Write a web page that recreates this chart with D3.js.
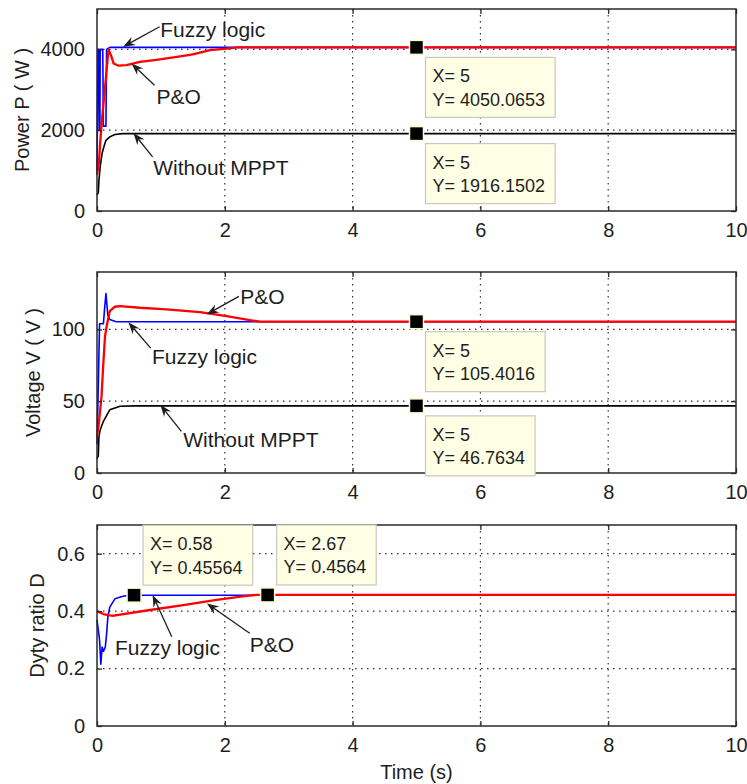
<!DOCTYPE html>
<html>
<head>
<meta charset="utf-8">
<script src="https://cdn.jsdelivr.net/npm/d3@7/dist/d3.min.js"></script>
<style>
  body { margin: 0; background: #fff; }
  svg text { font-family: "Liberation Sans", Arial, sans-serif; fill: #1e1e1e; }
</style>
</head>
<body>
<svg id="chart" width="747" height="784"></svg>
<script>
// shared time axis
var xTicks = [0, 2, 4, 6, 8, 10];

// Power P (W)
var powerTicks = [0, 2000, 4000];
var powerWithoutT = [0, 0.02, 0.03, 0.05, 0.08, 0.11, 0.14, 0.2, 0.28, 0.4, 10];
var powerWithoutV = [400, 450, 750, 1100, 1430, 1600, 1750, 1835, 1893, 1916.15, 1916.15];
var powerFuzzyT = [0, 0.015, 0.03, 0.035, 0.045, 0.05, 0.09, 0.1, 0.14, 0.15, 0.2, 10];
var powerFuzzyV = [900, 4000, 4000, 2000, 2000, 4000, 4000, 2100, 2100, 4000, 4050, 4050];
var powerPOT = [0, 0.03, 0.05, 0.08, 0.11, 0.14, 0.18, 0.22, 0.26, 0.33, 0.46, 0.67, 0.93, 1.25, 1.5, 1.77, 2.03, 2.2, 10];
var powerPOV = [900, 1200, 1700, 2300, 2800, 3300, 4000, 3850, 3650, 3600, 3610, 3690, 3740, 3815, 3875, 3980, 4020, 4050, 4050];
var powerTipX = [5, 5];
var powerTipY = [4050.0653, 1916.1502];
var powerNotes = ["Fuzzy logic", "P&O", "Without MPPT"];
var powerNoteAt = [[0.99, 4310], [0.93, 2660], [0.88, 885]];
var powerArrowFrom = [[0.98, 4560], [0.9, 3115], [0.87, 1340]];
var powerArrowTo = [[0.41, 4065], [0.54, 3650], [0.57, 1930]];

// Voltage V (V)
var voltTicks = [0, 50, 100];
var voltWithoutT = [0, 0.02, 0.03, 0.05, 0.1, 0.2, 0.36, 0.6, 10];
var voltWithoutV = [10, 12, 25, 30, 36, 44, 46.5, 46.76, 46.76];
var voltFuzzyT = [0, 0.02, 0.04, 0.1, 0.12, 0.14, 0.17, 0.2, 0.3, 10];
var voltFuzzyV = [20, 60, 104, 104, 115, 125, 110, 107, 105.4, 105.4];
var voltPOT = [0, 0.03, 0.07, 0.1, 0.125, 0.15, 0.2, 0.28, 0.36, 0.67, 1.09, 1.61, 2.03, 2.39, 2.55, 10];
var voltPOV = [25, 35, 53, 77, 95, 102, 112.8, 115.8, 116.3, 115.1, 114, 112, 109.3, 106.5, 105.4, 105.4];
var voltTipX = [5, 5];
var voltTipY = [105.4016, 46.7634];
var voltNotes = ["P&O", "Fuzzy logic", "Without MPPT"];
var voltNoteAt = [[2.24, 117.4], [0.86, 75.6], [1.35, 18.1]];
var voltArrowFrom = [[2.22, 123], [0.84, 87], [1.32, 29]];
var voltArrowTo = [[1.72, 110.5], [0.49, 105], [0.99, 47.5]];

// Duty ratio D
var dutyTicks = [0, 0.2, 0.4, 0.6];
var dutyFuzzyT = [0, 0.04, 0.06, 0.08, 0.1, 0.13, 0.15, 0.17, 0.2, 0.28, 0.39, 0.5, 10];
var dutyFuzzyV = [0.37, 0.3, 0.215, 0.275, 0.26, 0.275, 0.32, 0.38, 0.414, 0.443, 0.451, 0.4556, 0.4556];
var dutyPOT = [0, 0.1, 0.2, 0.26, 0.83, 1.35, 1.87, 2.34, 2.5, 10];
var dutyPOV = [0.4, 0.39, 0.385, 0.384, 0.404, 0.421, 0.439, 0.453, 0.4564, 0.4564];
var dutyTipX = [0.58, 2.67];
var dutyTipY = [0.45564, 0.4564];
var dutyNotes = ["Fuzzy logic", "P&O"];
var dutyNoteAt = [[0.28, 0.247], [2.39, 0.259]];
var dutyArrowFrom = [[1.17, 0.311], [2.39, 0.323]];
var dutyArrowTo = [[0.87, 0.456], [1.72, 0.427]];

var svg = d3.select("#chart");
var left = 97, right = 736;

var x = d3.scaleLinear().domain([0, 10]).range([left, right]);

function pts(t, v) { return t.map(function(d, i) { return [d, v[i]]; }); }
function plain(d) { return String(d); }

var panels = [
  { top: 9, bottom: 211, domain: [0, 5000], ticks: powerTicks, label: "Power P ( W )", labelX: 22,
    series: [[powerWithoutT, powerWithoutV, "#000"], [powerFuzzyT, powerFuzzyV, "#0000ff"], [powerPOT, powerPOV, "#ff0000"]],
    tipX: powerTipX, tipY: powerTipY, tipSide: "below",
    notes: powerNotes, noteAt: powerNoteAt, from: powerArrowFrom, to: powerArrowTo },
  { top: 272, bottom: 473, domain: [0, 140], ticks: voltTicks, label: "Voltage V ( V )", labelX: 33,
    series: [[voltWithoutT, voltWithoutV, "#000"], [voltFuzzyT, voltFuzzyV, "#0000ff"], [voltPOT, voltPOV, "#ff0000"]],
    tipX: voltTipX, tipY: voltTipY, tipSide: "below",
    notes: voltNotes, noteAt: voltNoteAt, from: voltArrowFrom, to: voltArrowTo },
  { top: 525, bottom: 726, domain: [0, 0.7], ticks: dutyTicks, label: "Dyty ratio D", labelX: 37,
    series: [[dutyFuzzyT, dutyFuzzyV, "#0000ff"], [dutyPOT, dutyPOV, "#ff0000"]],
    tipX: dutyTipX, tipY: dutyTipY, tipSide: "above",
    notes: dutyNotes, noteAt: dutyNoteAt, from: dutyArrowFrom, to: dutyArrowTo }
];

panels.forEach(function(p) {
  var y = d3.scaleLinear().domain(p.domain).range([p.bottom, p.top]);
  var g = svg.append("g");

  // dotted grid
  xTicks.slice(1, -1).forEach(function(t) {
    g.append("line").attr("x1", x(t)).attr("x2", x(t)).attr("y1", p.top).attr("y2", p.bottom)
      .attr("stroke", "#333").attr("stroke-width", 1.2).attr("stroke-dasharray", "1.5,4.5");
  });
  p.ticks.slice(1).forEach(function(v) {
    g.append("line").attr("x1", left).attr("x2", right).attr("y1", y(v)).attr("y2", y(v))
      .attr("stroke", "#333").attr("stroke-width", 1.2).attr("stroke-dasharray", "1.5,4.5");
  });

  // curves (red drawn last and a bit wider so it hides the blue where they coincide)
  var line = d3.line().x(function(d) { return x(d[0]); }).y(function(d) { return y(d[1]); });
  p.series.forEach(function(s) {
    g.append("path").datum(pts(s[0], s[1])).attr("d", line)
      .attr("fill", "none").attr("stroke", s[2]).attr("stroke-width", s[2] === "#ff0000" ? 2.3 : 1.6)
      .attr("stroke-linejoin", "round");
  });

  // box and inward ticks
  g.append("rect").attr("x", left).attr("y", p.top).attr("width", right - left).attr("height", p.bottom - p.top)
    .attr("fill", "none").attr("stroke", "#2a2a2a").attr("stroke-width", 1.5);
  g.append("g").attr("transform", "translate(0," + p.bottom + ")")
    .call(d3.axisBottom(x).tickValues(xTicks).tickSize(-5).tickPadding(12).tickFormat(plain));
  g.append("g").attr("transform", "translate(0," + p.top + ")")
    .call(d3.axisTop(x).tickValues(xTicks).tickSize(-5).tickFormat(""));
  g.append("g").attr("transform", "translate(" + left + ",0)")
    .call(d3.axisLeft(y).tickValues(p.ticks).tickSize(-5).tickPadding(12).tickFormat(plain));
  g.append("g").attr("transform", "translate(" + right + ",0)")
    .call(d3.axisRight(y).tickValues(p.ticks).tickSize(-5).tickFormat(""));
  g.selectAll(".domain").remove();
  g.selectAll(".tick line").attr("stroke", "#2a2a2a").attr("stroke-width", 1.3);
  g.selectAll(".tick text").attr("font-size", 20).attr("font-family", "Liberation Sans, Arial, sans-serif").attr("fill", "#1e1e1e");

  // y label
  g.append("text").attr("transform", "translate(" + p.labelX + "," + ((p.top + p.bottom) / 2) + ") rotate(-90)")
    .attr("text-anchor", "middle").attr("dy", "0.35em").attr("font-size", 20).text(p.label);

  // annotations with arrows
  p.notes.forEach(function(txt, i) {
    g.append("text").attr("x", x(p.noteAt[i][0])).attr("y", y(p.noteAt[i][1]))
      .attr("font-size", 21).text(txt);
    var fx = x(p.from[i][0]), fy = y(p.from[i][1]);
    var tx = x(p.to[i][0]), ty = y(p.to[i][1]);
    var dx = tx - fx, dy = ty - fy, len = Math.sqrt(dx * dx + dy * dy);
    var ux = dx / len, uy = dy / len, nx = -uy, ny = ux;
    var L = 12, W = 4.5, notch = 8;
    g.append("line").attr("x1", fx).attr("y1", fy).attr("x2", tx - ux * notch).attr("y2", ty - uy * notch)
      .attr("stroke", "#1e1e1e").attr("stroke-width", 1.3);
    var head = [[tx, ty], [tx - ux * L + nx * W, ty - uy * L + ny * W], [tx - ux * notch, ty - uy * notch],
                [tx - ux * L - nx * W, ty - uy * L - ny * W]];
    g.append("path").attr("d", "M" + head.join("L") + "Z").attr("fill", "#1e1e1e");
  });

  // data tips
  p.tipX.forEach(function(tx, i) {
    var mx = x(tx), my = y(p.tipY[i]);
    var tip = g.append("g");
    var lines = ["X= " + tx, "Y= " + p.tipY[i]];
    var bw = 0, bh = 60;
    var by = p.tipSide === "below" ? my + 10 : my - 10 - bh;
    var bx = mx + 9;
    var rect = tip.append("rect").attr("x", bx).attr("y", by).attr("height", bh)
      .attr("fill", "#ffffe6").attr("stroke", "#c8c8bc").attr("stroke-width", 1.2);
    lines.forEach(function(s, k) {
      var t = tip.append("text").attr("x", bx + 7).attr("y", by + 25 + k * 23.5)
        .attr("font-size", 18).attr("fill", "#222").text(s);
      bw = Math.max(bw, t.node().getComputedTextLength());
    });
    rect.attr("width", bw + 17);
    tip.append("rect").attr("x", mx - 7).attr("y", my - 7).attr("width", 14).attr("height", 14)
      .attr("fill", "#000").attr("stroke", "#fffbd0").attr("stroke-width", 1.5);
  });
});

// x label
svg.append("text").attr("x", (left + right) / 2).attr("y", 779).attr("text-anchor", "middle")
  .attr("font-size", 20).text("Time (s)");
</script>
</body>
</html>
